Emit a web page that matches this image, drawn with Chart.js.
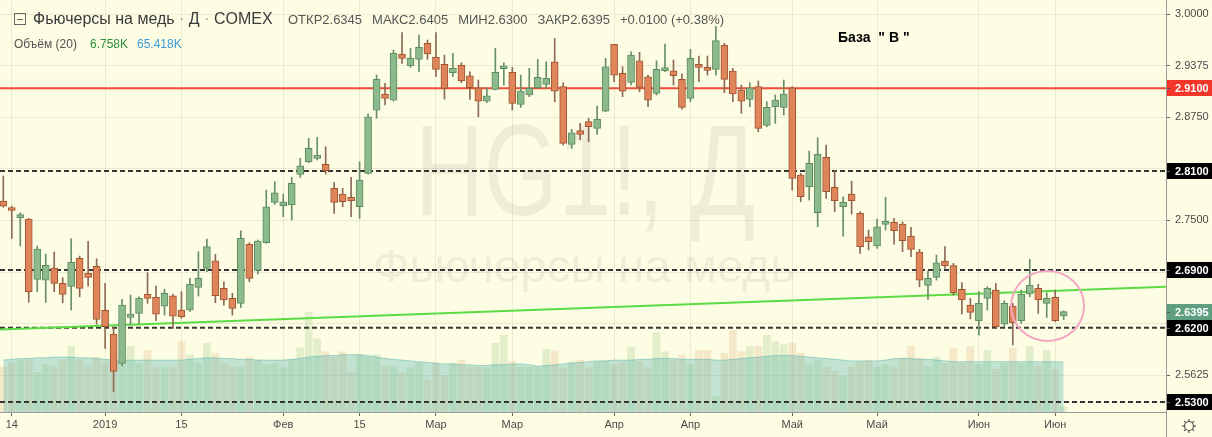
<!DOCTYPE html>
<html>
<head>
<meta charset="utf-8">
<script src="https://cdn.jsdelivr.net/npm/chart.js@4.4.1/dist/chart.umd.min.js"></script>
<style>
  html, body { margin: 0; padding: 0; background: #fdfde4; }
  canvas { display: block; }
</style>
</head>
<body>
<canvas id="myChart" width="1212" height="437"></canvas>
<script>
// daily candles, Dec 13 2018 .. Jun 2019 (index = bar number)
const opens = [
  2.7735, 2.7633, 2.7535, 2.7517, 2.6787, 2.6778, 2.6924, 2.6738, 2.6702, 2.7041,
  2.6859, 2.6944, 2.6411, 2.6124, 2.5769, 2.6327, 2.6375, 2.6605, 2.6569, 2.6463,
  2.6588, 2.6415, 2.6415, 2.6690, 2.6920, 2.7012, 2.6678, 2.6556, 2.6496, 2.7211,
  2.6895, 2.7230, 2.7719, 2.7678, 2.7687, 2.8058, 2.8211, 2.8252, 2.8179, 2.7889,
  2.7820, 2.7780, 2.7666, 2.8071, 2.8837, 2.9031, 2.8958, 2.9516, 2.9374, 2.9451,
  2.9645, 2.9476, 2.9391, 2.9289, 2.9379, 2.9253, 2.9107, 2.8946, 2.9088, 2.9337,
  2.9294, 2.8906, 2.9019, 2.9107, 2.9148, 2.9422, 2.9120, 2.8422, 2.8587, 2.8696,
  2.8616, 2.8825, 2.9633, 2.9282, 2.9173, 2.9434, 2.9240, 2.9040, 2.9313, 2.9313,
  2.9209, 2.8979, 2.9382, 2.9334, 2.9330, 2.9625, 2.9310, 2.9080, 2.8967, 2.9120,
  2.8652, 2.8877, 2.8870, 2.9107, 2.8050, 2.7909, 2.7593, 2.8264, 2.7901, 2.7666,
  2.7820, 2.7586, 2.7303, 2.7190, 2.7452, 2.7477, 2.7457, 2.7311, 2.7117, 2.6714,
  2.6811, 2.7008, 2.6952, 2.6666, 2.6475, 2.6285, 2.6557, 2.6657, 2.6245, 2.6463,
  2.6285, 2.6609, 2.6678, 2.6496, 2.6569, 2.6345
];
const highs = [
  2.8038, 2.7674, 2.7593, 2.7525, 2.7190, 2.7093, 2.7117, 2.6806, 2.7279, 2.7069,
  2.7247, 2.7036, 2.6738, 2.6209, 2.6544, 2.6597, 2.6576, 2.6867, 2.6705, 2.6666,
  2.6609, 2.6637, 2.6799, 2.7121, 2.7275, 2.7090, 2.6758, 2.6617, 2.7375, 2.7230,
  2.7263, 2.7868, 2.7969, 2.7820, 2.8022, 2.8252, 2.8494, 2.8507, 2.8393, 2.7961,
  2.7889, 2.8022, 2.8211, 2.8789, 2.9261, 2.9161, 2.9564, 2.9774, 2.9584, 2.9746,
  2.9685, 2.9774, 2.9503, 2.9524, 2.9410, 2.9301, 2.9201, 2.9107, 2.9584, 2.9410,
  2.9354, 2.9261, 2.9342, 2.9451, 2.9422, 2.9706, 2.9168, 2.8603, 2.8676, 2.8737,
  2.8886, 2.9463, 2.9633, 2.9362, 2.9543, 2.9536, 2.9261, 2.9434, 2.9637, 2.9443,
  2.9273, 2.9572, 2.9491, 2.9491, 2.9850, 2.9645, 2.9342, 2.9140, 2.9168, 2.9189,
  2.8938, 2.9019, 2.9201, 2.9120, 2.8071, 2.8341, 2.8502, 2.8413, 2.8102, 2.7787,
  2.7977, 2.7606, 2.7384, 2.7517, 2.7780, 2.7525, 2.7484, 2.7417, 2.7150, 2.6887,
  2.7081, 2.7182, 2.6980, 2.6746, 2.6556, 2.6637, 2.6697, 2.6738, 2.6528, 2.6496,
  2.6657, 2.7029, 2.6726, 2.6624, 2.6657, 2.6405
];
const lows = [
  2.7660, 2.7283, 2.7190, 2.6508, 2.6637, 2.6508, 2.6637, 2.6503, 2.6415, 2.6576,
  2.6705, 2.6242, 2.5951, 2.5425, 2.5737, 2.6245, 2.6254, 2.6496, 2.6285, 2.6354,
  2.6193, 2.6314, 2.6395, 2.6584, 2.6879, 2.6503, 2.6475, 2.6354, 2.6448, 2.6758,
  2.6851, 2.7222, 2.7695, 2.7545, 2.7505, 2.8022, 2.8199, 2.8232, 2.8062, 2.7586,
  2.7666, 2.7545, 2.7525, 2.8062, 2.8737, 2.8898, 2.8946, 2.9403, 2.9354, 2.9301,
  2.9451, 2.9241, 2.8970, 2.9241, 2.9168, 2.8967, 2.8756, 2.8926, 2.9080, 2.9140,
  2.8837, 2.8870, 2.8999, 2.9100, 2.9100, 2.8938, 2.8413, 2.8373, 2.8474, 2.8453,
  2.8543, 2.8817, 2.9180, 2.8999, 2.9140, 2.9059, 2.8877, 2.9019, 2.9301, 2.9140,
  2.8849, 2.8938, 2.9180, 2.9261, 2.9261, 2.9047, 2.8938, 2.8797, 2.8877, 2.8575,
  2.8635, 2.8676, 2.8777, 2.7868, 2.7727, 2.7747, 2.7424, 2.7768, 2.7606, 2.7311,
  2.7578, 2.7102, 2.7142, 2.7162, 2.7384, 2.7214, 2.7121, 2.7061, 2.6697, 2.6544,
  2.6778, 2.6920, 2.6597, 2.6366, 2.6306, 2.6112, 2.6415, 2.6205, 2.6213, 2.5991,
  2.6254, 2.6576, 2.6375, 2.6326, 2.6273, 2.6300
];
const closes = [
  2.7674, 2.7621, 2.7545, 2.6637, 2.7154, 2.6956, 2.6738, 2.6605, 2.6993, 2.6677,
  2.6811, 2.6302, 2.6213, 2.5673, 2.6475, 2.6366, 2.6557, 2.6557, 2.6366, 2.6617,
  2.6342, 2.6334, 2.6726, 2.6799, 2.7182, 2.6588, 2.6536, 2.6435, 2.7283, 2.6799,
  2.7251, 2.7666, 2.7836, 2.7727, 2.7949, 2.8163, 2.8373, 2.8292, 2.8102, 2.7719,
  2.7727, 2.7739, 2.7989, 2.8756, 2.9209, 2.8979, 2.9524, 2.9463, 2.9463, 2.9597,
  2.9516, 2.9330, 2.9100, 2.9342, 2.9192, 2.9107, 2.8946, 2.9010, 2.9294, 2.9362,
  2.8918, 2.9067, 2.9100, 2.9233, 2.9221, 2.9067, 2.8434, 2.8562, 2.8543, 2.8635,
  2.8725, 2.9362, 2.9261, 2.9067, 2.9503, 2.9112, 2.8958, 2.9330, 2.9350, 2.9253,
  2.8870, 2.9463, 2.9354, 2.9318, 2.9677, 2.9209, 2.9031, 2.8946, 2.9107, 2.8616,
  2.8870, 2.8958, 2.9031, 2.8010, 2.7787, 2.8192, 2.8301, 2.7848, 2.7739, 2.7719,
  2.7739, 2.7182, 2.7242, 2.7424, 2.7477, 2.7375, 2.7254, 2.7150, 2.6778, 2.6799,
  2.6988, 2.6952, 2.6624, 2.6536, 2.6387, 2.6496, 2.6678, 2.6213, 2.6496, 2.6261,
  2.6609, 2.6718, 2.6536, 2.6557, 2.6285, 2.6395
];
// volume, thousands of contracts
const volumes = [
  59, 64, 68, 68, 52, 62, 59, 69, 86, 69, 59, 72, 64, 64, 64, 86, 64, 81, 58, 59, 59,
  92, 75, 64, 90, 77, 64, 59, 59, 72, 68, 62, 64, 58, 69, 84, 131, 96, 79, 72, 79, 52,
  75, 72, 75, 60, 60, 51, 58, 64, 42, 64, 48, 64, 68, 59, 59, 58, 90, 101, 66, 59, 59,
  58, 82, 80, 58, 66, 68, 58, 66, 67, 62, 66, 85, 66, 58, 104, 79, 68, 75, 62, 81,
  81, 20, 77, 107, 79, 86, 86, 101, 92, 88, 90, 77, 62, 68, 59, 54, 47, 59, 66, 68, 59,
  62, 59, 71, 86, 71, 59, 72, 64, 84, 64, 86, 62, 81, 56, 64, 84, 64, 86, 60, 81, 56, 6.758
];
// volume 20-day average as plotted
const volumeMA = [
  68, 69, 70, 70, 71, 71, 72, 72, 72, 71, 71, 70, 69, 68, 68, 68, 68, 68, 68, 68, 68,
  68, 69, 70, 71, 71, 70, 70, 69, 69, 68, 68, 68, 68, 69, 70, 72, 73, 74, 74, 75, 75,
  75, 74, 72, 70, 69, 68, 67, 66, 65, 64, 63, 63, 62, 62, 61, 61, 62, 62, 63, 63, 62,
  60, 61, 62, 63, 64, 65, 66, 67, 67, 68, 68, 68, 69, 69, 70, 70, 70, 69, 69, 69,
  69, 68, 68, 69, 70, 71, 72, 73, 74, 74, 74, 73, 72, 71, 70, 69, 68, 67, 67, 67, 67,
  68, 70, 70, 70, 69, 69, 68, 67, 66, 66, 66, 66, 66, 66, 66, 66, 66, 66, 66, 66, 66, 65.418
];

const tickIndex = [1, 12, 21, 33, 42, 51, 60, 72, 81, 93, 103, 115, 124];
const tickLabels = ['14', '2019', '15', 'Фев', '15', 'Мар', 'Мар', 'Апр', 'Апр', 'Май', 'Май', 'Июн', 'Июн'];
const priceTicks = [2.5625, 2.625, 2.6875, 2.75, 2.8125, 2.875, 2.9375, 3.0];

const resistanceLevel = 2.91;
const dashedLevels = [2.81, 2.69, 2.62, 2.53];
const lastPrice = 2.6395;
const trendStart = 2.618;   // price at left edge
const trendEnd = 2.6697;    // price at right edge
const circleNote = { from: 118.8, to: 127.4, top: 2.6887, bottom: 2.6039 };

const X_MIN = -0.39;
const X_MAX = 137.06;

const upColor = '#8dba8c';
const upBorder = '#5d8c5f';
const downColor = '#e0845a';
const downBorder = '#9e5532';

const isUp = opens.map((o, i) => closes[i] >= o);

const hLine = (y, color, dash) => ({
    type: 'line',
    data: [{ x: X_MIN, y: y }, { x: X_MAX, y: y }],
    borderColor: color,
    borderWidth: 2,
    borderDash: dash,
    pointRadius: 0,
    yAxisID: 'y',
    order: 8
});

// no extra padding around the plot, the axes are sized by hand
const fixPadding = (scale) => {
    scale.paddingTop = 0;
    scale.paddingBottom = 0;
    scale.paddingLeft = 0;
    scale.paddingRight = 0;
};

const overlayPlugin = {
    id: 'overlay',
    beforeDatasetsDraw(chart) {
        const { ctx, chartArea } = chart;
        ctx.save();
        ctx.beginPath();
        ctx.rect(chartArea.left, chartArea.top, chartArea.width, chartArea.height);
        ctx.clip();
        ctx.fillStyle = 'rgba(0,0,0,0.06)';
        ctx.textAlign = 'center';
        ctx.textBaseline = 'alphabetic';
        const stretched = (text, cx, base, size, width) => {
            ctx.font = size + 'px "Liberation Sans"';
            const w = ctx.measureText(text).width;
            ctx.save();
            ctx.translate(cx, base);
            ctx.scale(width / w, 1);
            ctx.fillText(text, 0, 0);
            ctx.restore();
        };
        stretched('HG1!, Д', 585, 215, 130, 340);
        stretched('Фьючерсы на медь', 584, 282, 46, 422);
        ctx.restore();
    },
    afterDatasetsDraw(chart) {
        const { ctx } = chart;
        const x = chart.scales.x, y = chart.scales.y;
        const x1 = x.getPixelForValue(circleNote.from), x2 = x.getPixelForValue(circleNote.to);
        const y1 = y.getPixelForValue(circleNote.top), y2 = y.getPixelForValue(circleNote.bottom);
        ctx.save();
        ctx.strokeStyle = '#f3a7c4';
        ctx.lineWidth = 2;
        ctx.beginPath();
        ctx.ellipse((x1 + x2) / 2, (y1 + y2) / 2, (x2 - x1) / 2, (y2 - y1) / 2, 0, 0, Math.PI * 2);
        ctx.stroke();
        ctx.restore();
    },
    afterDraw(chart) {
        const { ctx, chartArea } = chart;
        const y = chart.scales.y;
        ctx.save();

        // price labels on the right axis
        const boxes = [
            { v: resistanceLevel, bg: '#f2362a' },
            ...dashedLevels.map(v => ({ v: v, bg: '#000000' })),
            { v: lastPrice, bg: '#5f9f80' }
        ];
        ctx.font = 'bold 11px "Liberation Sans"';
        ctx.textBaseline = 'middle';
        ctx.textAlign = 'left';
        boxes.forEach(b => {
            const py = Math.round(y.getPixelForValue(b.v));
            ctx.fillStyle = b.bg;
            ctx.fillRect(chartArea.right + 1, py - 8, 46, 16);
            ctx.strokeStyle = '#555';
            ctx.lineWidth = 1;
            ctx.beginPath();
            ctx.moveTo(chartArea.right, py + 0.5);
            ctx.lineTo(chartArea.right + 4, py + 0.5);
            ctx.stroke();
            ctx.fillStyle = '#ffffff';
            ctx.fillText(b.v.toFixed(4), chartArea.right + 9, py + 1);
        });

        // right axis line down to the bottom
        ctx.strokeStyle = '#9a9a9a';
        ctx.beginPath();
        ctx.moveTo(chartArea.right + 0.5, 0);
        ctx.lineTo(chartArea.right + 0.5, chart.height);
        ctx.stroke();

        // settings icon
        ctx.strokeStyle = '#555';
        ctx.lineWidth = 1.2;
        ctx.beginPath();
        ctx.arc(1189, 426, 4.5, 0, Math.PI * 2);
        ctx.stroke();
        for (let k = 0; k < 8; k++) {
            const a = k * Math.PI / 4;
            ctx.beginPath();
            ctx.moveTo(1189 + Math.cos(a) * 4.5, 426 + Math.sin(a) * 4.5);
            ctx.lineTo(1189 + Math.cos(a) * 7, 426 + Math.sin(a) * 7);
            ctx.stroke();
        }

        // header
        ctx.strokeStyle = '#666';
        ctx.lineWidth = 1;
        ctx.strokeRect(14.5, 13.5, 11, 11);
        ctx.beginPath();
        ctx.moveTo(17, 19.5);
        ctx.lineTo(23, 19.5);
        ctx.stroke();

        ctx.textBaseline = 'middle';
        ctx.font = '16px "Liberation Sans"';
        let hx = 33;
        ['Фьючерсы на медь', ' · ', 'Д', ' · ', 'COMEX'].forEach((t, k) => {
            ctx.fillStyle = (k % 2) ? '#9a9a9a' : '#3b3b3b';
            ctx.fillText(t, hx, 20);
            hx += ctx.measureText(t).width;
        });

        ctx.font = '13px "Liberation Sans"';
        hx = 288;
        [['ОТКР', '2.6345'], ['МАКС', '2.6405'], ['МИН', '2.6300'], ['ЗАКР', '2.6395'], ['', '+0.0100 (+0.38%)']].forEach(p => {
            ctx.fillStyle = '#555';
            ctx.fillText(p[0] + p[1], hx, 20);
            hx += ctx.measureText(p[0] + p[1]).width + 10;
        });

        ctx.font = '12px "Liberation Sans"';
        ctx.fillStyle = '#555';
        ctx.fillText('Объём (20)', 14, 45);
        ctx.fillStyle = '#2f8f3a';
        ctx.fillText('6.758K', 90, 45);
        ctx.fillStyle = '#3d9ad8';
        ctx.fillText('65.418K', 137, 45);

        ctx.font = 'bold 14px "Liberation Sans"';
        ctx.fillStyle = '#000';
        ctx.fillText('База  " В "', 838, 38);
        ctx.restore();
    }
};

const renderChart = () => {
    const ctx = document.getElementById('myChart').getContext('2d');
    const idx = opens.map((o, i) => i);

    new Chart(ctx, {
        type: 'bar',
        data: {
            datasets: [
                {
                    type: 'bar',
                    data: idx.map(i => ({ x: i, y: volumes[i] })),
                    yAxisID: 'yv',
                    backgroundColor: idx.map(i => isUp[i] ? 'rgba(120,180,100,0.2)' : 'rgba(220,160,100,0.22)'),
                    barThickness: 7,
                    grouped: false,
                    order: 11
                },
                {
                    type: 'line',
                    data: idx.map(i => ({ x: i, y: volumeMA[i] })),
                    yAxisID: 'yv',
                    fill: 'origin',
                    backgroundColor: 'rgba(76,175,170,0.33)',
                    borderColor: 'rgba(76,175,170,0.45)',
                    borderWidth: 1,
                    pointRadius: 0,
                    order: 10
                },
                hLine(resistanceLevel, '#ef4b36', []),
                ...dashedLevels.map(v => hLine(v, '#353535', [5, 3])),
                {
                    type: 'line',
                    data: [{ x: X_MIN, y: trendStart }, { x: X_MAX, y: trendEnd }],
                    borderColor: '#5bdc45',
                    borderWidth: 2,
                    pointRadius: 0,
                    yAxisID: 'y',
                    order: 7
                },
                {
                    type: 'bar',
                    data: idx.map(i => ({ x: i, y: [lows[i], highs[i]] })),
                    yAxisID: 'y',
                    backgroundColor: idx.map(i => isUp[i] ? '#6a8d6a' : '#8d6a55'),
                    barThickness: 1,
                    grouped: false,
                    order: 6
                },
                {
                    type: 'bar',
                    data: idx.map(i => ({ x: i, y: [opens[i], closes[i]] })),
                    yAxisID: 'y',
                    backgroundColor: idx.map(i => isUp[i] ? upColor : downColor),
                    borderColor: idx.map(i => isUp[i] ? upBorder : downBorder),
                    borderWidth: 1,
                    borderSkipped: false,
                    barThickness: 7,
                    minBarLength: 3,
                    grouped: false,
                    order: 5
                }
            ]
        },
        options: {
            responsive: false,
            animation: false,
            layout: { padding: 0 },
            plugins: {
                legend: { display: false },
                tooltip: { enabled: false }
            },
            scales: {
                x: {
                    type: 'linear',
                    min: X_MIN,
                    max: X_MAX,
                    offset: false,
                    afterBuildTicks: (scale) => {
                        scale.ticks = tickIndex.map(v => ({ value: v }));
                    },
                    afterFit: (scale) => { scale.height = 25; fixPadding(scale); },
                    ticks: {
                        autoSkip: false,
                        maxRotation: 0,
                        padding: 2,
                        color: '#4a4a4a',
                        font: { family: '"Liberation Sans"', size: 11 },
                        callback: (v) => tickLabels[tickIndex.indexOf(v)]
                    },
                    grid: {
                        color: 'rgba(0,0,0,0.07)',
                        tickColor: '#666',
                        tickLength: 4,
                        offset: false
                    },
                    border: { color: '#9a9a9a' }
                },
                y: {
                    position: 'right',
                    min: 2.518,
                    max: 3.017,
                    afterBuildTicks: (scale) => {
                        scale.ticks = priceTicks.map(v => ({ value: v }));
                    },
                    afterFit: (scale) => { scale.width = 46; fixPadding(scale); },
                    ticks: {
                        padding: 5,
                        color: '#4a4a4a',
                        font: { family: '"Liberation Sans"', size: 11 },
                        callback: (v) => v.toFixed(4)
                    },
                    grid: {
                        color: 'rgba(0,0,0,0.07)',
                        tickColor: '#666',
                        tickLength: 4
                    },
                    border: { color: '#9a9a9a' }
                },
                yv: {
                    display: false,
                    min: 0,
                    max: 540
                }
            }
        },
        plugins: [overlayPlugin]
    });
};

window.addEventListener('load', renderChart);
</script>
</body>
</html>
